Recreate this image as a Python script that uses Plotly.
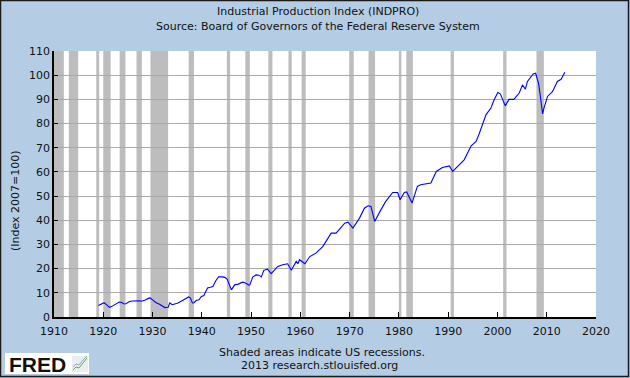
import plotly.graph_objects as go

# --- data ---
dates = [
    "1919-01", "1919-06", "1919-11", "1920-03", "1920-08", "1921-04", "1921-09", "1922-04", "1922-10",
    "1923-04", "1923-10", "1924-04", "1924-08", "1925-05", "1925-12", "1926-09", "1927-06", "1927-10",
    "1928-06", "1929-04", "1929-07", "1930-01", "1930-10", "1931-06", "1932-01", "1932-07", "1933-03",
    "1933-07", "1934-01", "1934-07", "1935-03", "1936-03", "1936-12", "1937-05", "1937-09", "1938-02",
    "1938-06", "1938-12", "1939-06", "1939-12", "1940-06", "1941-03", "1941-10", "1942-04", "1942-11",
    "1943-06", "1944-03", "1944-09", "1945-03", "1945-08", "1946-01", "1946-09", "1947-06", "1948-04",
    "1948-10", "1949-07", "1949-10", "1950-05", "1951-01", "1951-08", "1952-02", "1952-08", "1953-05",
    "1954-02", "1954-10", "1955-06", "1956-06", "1957-06", "1958-03", "1959-03", "1959-07", "1959-11",
    "1960-12", "1961-12", "1963-03", "1964-08", "1966-04", "1967-04", "1969-01", "1969-09", "1970-09",
    "1972-01", "1973-01", "1973-10", "1974-05", "1975-02", "1976-05", "1977-05", "1978-10", "1979-10",
    "1980-04", "1981-02", "1981-08", "1982-09", "1983-10", "1984-06", "1986-07", "1987-08", "1988-11",
    "1990-04", "1990-12", "1991-11", "1993-04", "1994-09", "1995-09", "1996-05", "1997-09", "1998-09",
    "1999-05", "2000-02", "2000-08", "2001-08", "2002-05", "2003-05", "2004-06", "2005-02", "2005-09",
    "2006-02", "2007-04", "2007-10", "2008-05", "2008-09", "2009-03", "2009-06", "2010-03", "2011-03",
    "2012-03", "2012-12", "2013-09",
]
indpro = [
    4.8, 5.2, 5.8, 5.9, 5.2, 4.0, 4.3, 5.1, 5.8,
    6.2, 6.0, 5.4, 5.5, 6.4, 6.6, 6.7, 6.7, 6.5,
    6.9, 7.8, 7.9, 7.1, 5.9, 5.3, 4.6, 3.9, 4.0,
    5.8, 5.1, 5.4, 5.8, 6.9, 7.8, 8.3, 7.9, 5.8,
    5.9, 6.9, 7.1, 8.5, 8.9, 12.0, 12.3, 12.6, 15.0,
    16.6, 16.6, 16.4, 15.6, 13.0, 11.2, 13.3, 13.6, 14.4,
    14.2, 13.2, 13.3, 16.5, 17.4, 17.3, 16.6, 19.3, 19.8,
    17.9, 19.5, 20.9, 21.6, 22.0, 19.3, 23.0, 22.0, 23.7,
    22.0, 25.0, 26.4, 29.2, 34.7, 34.7, 38.8, 39.2, 36.8,
    40.9, 45.0, 46.0, 45.7, 39.5, 44.3, 47.8, 51.5, 51.5,
    48.5, 51.5, 51.7, 47.1, 54.0, 54.7, 55.4, 60.2, 61.8,
    62.5, 60.2, 62.1, 65.0, 70.8, 72.6, 76.0, 83.6, 86.4,
    89.8, 92.8, 92.3, 87.3, 90.0, 90.0, 92.6, 96.0, 94.2,
    97.4, 100.5, 100.8, 96.7, 91.9, 84.0, 86.3, 91.2, 93.2,
    97.4, 98.3, 101.2,
]
rec_start = ["1910-01", "1913-01", "1918-08", "1920-01", "1923-05", "1926-10", "1929-08", "1937-05",
             "1945-02", "1948-11", "1953-07", "1957-08", "1960-04", "1969-12", "1973-11", "1980-01",
             "1981-07", "1990-07", "2001-03", "2007-12"]
rec_end = ["1912-01", "1914-12", "1919-03", "1921-07", "1924-07", "1927-11", "1933-03", "1938-06",
           "1945-10", "1949-10", "1954-05", "1958-04", "1961-02", "1970-11", "1975-03", "1980-07",
           "1982-11", "1991-03", "2001-11", "2009-06"]
x_ticks = [str(y) for y in range(1910, 2021, 10)]
y_ticks = list(range(0, 111, 10))

W, H = 630, 378
L, R, T, B = 54, 34, 51, 61
pw, ph = W - L - R, H - T - B
BG = "#b4cde4"
FONT = "DejaVu Sans"

def px(xp):
    return (xp - L) / pw

def py(yp):
    return (H - B - yp) / ph

fig = go.Figure()
fig.add_trace(go.Scatter(x=dates, y=indpro, mode="lines",
                         line=dict(color="#0000ff", width=1.1), hoverinfo="skip"))

shapes = []
for s, e in zip(rec_start, rec_end):
    shapes.append(dict(type="rect", xref="x", yref="paper", x0=s, x1=e, y0=0, y1=1,
                       fillcolor="#bdbdbd", line=dict(width=0), layer="below"))

# outer frame
shapes.append(dict(type="rect", xref="paper", yref="paper", x0=px(0.5), x1=px(W - 1.5),
                   y0=py(H - 1.5), y1=py(0.5), line=dict(color="#1a1a1a", width=1.5),
                   fillcolor="rgba(0,0,0,0)", layer="above"))
# FRED logo box
shapes.append(dict(type="rect", xref="paper", yref="paper", x0=px(5), x1=px(89),
                   y0=py(374), y1=py(353), fillcolor="white", line=dict(width=0)))
shapes.append(dict(type="rect", xref="paper", yref="paper", x0=px(72), x1=px(88),
                   y0=py(372), y1=py(356), fillcolor="#e8eef2", line=dict(width=0)))
shapes.append(dict(type="path", xref="paper", yref="paper",
                   path="M %f %f L %f %f L %f %f L %f %f L %f %f" % (
                       px(73), py(370), px(76), py(367), px(79), py(368), px(83), py(363), px(87), py(358)),
                   line=dict(color="#6aa84f", width=1)))
shapes.append(dict(type="path", xref="paper", yref="paper",
                   path="M %f %f L %f %f L %f %f L %f %f L %f %f" % (
                       px(73), py(367), px(76), py(364), px(79), py(365), px(83), py(360), px(87), py(356)),
                   line=dict(color="#8fa9c4", width=1)))

def ann(text, x, y, size=11, angle=0, family=FONT):
    return dict(text=text, xref="paper", yref="paper", x=px(x), y=py(y),
                xanchor="center", yanchor="middle", textangle=angle,
                showarrow=False, font=dict(size=size, color="#111", family=family))

annotations = [
    ann("Industrial Production Index (INDPRO)", W / 2 + 3, 12),
    ann("Source: Board of Governors of the Federal Reserve System", W / 2 + 3, 26),
    ann("(Index 2007=100)", 15, 201, angle=-90),
    ann("Shaded areas indicate US recessions.", 322, 352),
    ann("2013 research.stlouisfed.org", 319, 365),
    ann("<b>FRED</b>", 37, 364, size=21, family="Liberation Sans"),
]

fig.update_layout(
    width=W, height=H,
    margin=dict(l=L, r=R, t=T, b=B, pad=0),
    paper_bgcolor=BG, plot_bgcolor="white",
    font=dict(family=FONT, size=11, color="#111"),
    showlegend=False,
    shapes=shapes, annotations=annotations,
    xaxis=dict(type="date", range=["1910-01-01", "2020-01-01"],
               tickvals=[t + "-01-01" for t in x_ticks], ticktext=x_ticks,
               ticks="inside", ticklen=5, tickcolor="#000", tickwidth=1,
               ticklabelstandoff=3,
               showgrid=False, showline=True, linecolor="#000", linewidth=1.5,
               zeroline=False, fixedrange=True, tickfont=dict(size=11)),
    yaxis=dict(range=[0, 110], tickvals=y_ticks, ticks="inside", ticklen=4,
               tickcolor="#000", showgrid=True, gridcolor="#aaaaaa", gridwidth=1,
               showline=True, linecolor="#000", linewidth=1.5, zeroline=False,
               fixedrange=True, tickfont=dict(size=11), layer="above traces"),
)

fig.write_html("out.html", config={"displayModeBar": False},
               post_script="document.body.style.margin='0';document.body.style.overflow='hidden';")
